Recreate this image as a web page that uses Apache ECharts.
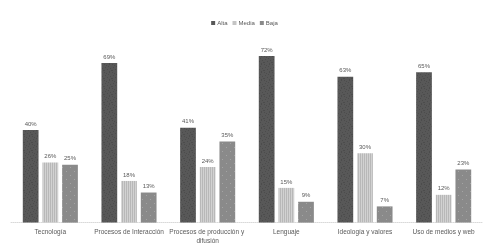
<!DOCTYPE html>
<html>
<head>
<meta charset="utf-8">
<script src="https://cdn.jsdelivr.net/npm/echarts@6/dist/echarts.min.js"></script>
<style>
  html, body { margin: 0; padding: 0; background: #fff; }
  #chart { width: 489px; height: 252px; }
</style>
</head>
<body>
<div id="chart"></div>
<script>
var categories = ['Tecnología', 'Procesos de Interacción', 'Procesos de producción y difusión', 'Lenguaje', 'Ideología y valores', 'Uso de medios y web'];
var alta = [40, 69, 41, 72, 63, 65];
var media = [26, 18, 24, 15, 30, 12];
var baja = [25, 13, 35, 9, 7, 23];

// small canvas patterns to mimic the grey textures
function makePattern(base, draw) {
  var c = document.createElement('canvas');
  c.width = 8; c.height = 8;
  var ctx = c.getContext('2d');
  ctx.fillStyle = base;
  ctx.fillRect(0, 0, 8, 8);
  draw(ctx);
  return { image: c, repeat: 'repeat' };
}
var altaFill = makePattern('#585858', function (ctx) {
  ctx.fillStyle = '#4c4c4c';
  [[0,0],[2,1],[5,0],[1,3],[4,2],[6,4],[3,5],[0,6],[7,6],[5,7]].forEach(function (p) { ctx.fillRect(p[0], p[1], 1, 1); });
});
var mediaFill = makePattern('#d2d2d2', function (ctx) {
  ctx.fillStyle = '#b8b8b8';
  for (var x = 0; x < 8; x += 2) ctx.fillRect(x, 0, 1, 8);
});
var bajaFill = makePattern('#8a8a8a', function (ctx) {
  ctx.fillStyle = '#a4a4a4';
  ctx.fillRect(2, 3, 1, 1);
  ctx.fillRect(6, 7, 1, 1);
});

var chart = echarts.init(document.getElementById('chart'));
var labelStyle = { show: true, position: 'top', formatter: '{c}%', fontSize: 6, color: '#595959', distance: 3, fontFamily: 'Liberation Sans' };

chart.setOption({
  animation: false,
  legend: {
    top: 15, left: 'center',
    icon: 'rect',
    itemWidth: 4, itemHeight: 4, itemGap: 5,
    textStyle: { fontSize: 6, color: '#595959', fontFamily: 'Liberation Sans', padding: [0, 0, 0, -3] },
    data: [
      { name: 'Alta', itemStyle: { color: '#585858' } },
      { name: 'Media', itemStyle: { color: '#c4c4c4' } },
      { name: 'Baja', itemStyle: { color: '#8a8a8a' } }
    ]
  },
  grid: { left: 11, right: 6, top: 37.5, bottom: 29.4 },
  xAxis: {
    type: 'category',
    data: categories,
    axisTick: { show: false },
    axisLine: { lineStyle: { color: '#d9d9d9', type: 'dotted', width: 1 } },
    axisLabel: { interval: 0, fontSize: 6.5, color: '#595959', fontFamily: 'Liberation Sans', margin: 5, width: 82, overflow: 'break', lineHeight: 9 }
  },
  yAxis: { type: 'value', min: 0, max: 80, show: false, splitLine: { show: false } },
  series: [
    { name: 'Alta', type: 'bar', data: alta, barWidth: '20%', barGap: '25%', itemStyle: { color: altaFill }, label: labelStyle },
    { name: 'Media', type: 'bar', data: media, barWidth: '20%', barGap: '25%', itemStyle: { color: mediaFill }, label: labelStyle },
    { name: 'Baja', type: 'bar', data: baja, barWidth: '20%', barGap: '25%', itemStyle: { color: bajaFill }, label: labelStyle }
  ]
});
</script>
</body>
</html>
